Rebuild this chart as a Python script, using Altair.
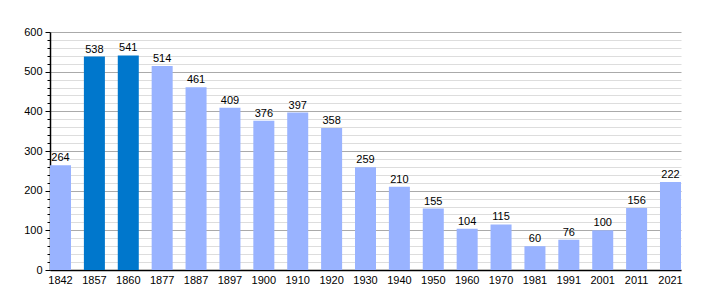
import altair as alt
import pandas as pd

years = ["1842", "1857", "1860", "1877", "1887", "1897", "1900", "1910", "1920", "1930",
         "1940", "1950", "1960", "1970", "1981", "1991", "2001", "2011", "2021"]
population = [264, 538, 541, 514, 461, 409, 376, 397, 358, 259,
              210, 155, 104, 115, 60, 76, 100, 156, 222]
highlight = ["no", "yes", "yes", "no", "no", "no", "no", "no", "no", "no",
             "no", "no", "no", "no", "no", "no", "no", "no", "no"]
y_ticks = list(range(0, 601, 20))

df = pd.DataFrame({"year": years, "pop": population, "hl": highlight})

font = "Liberation Sans"

base = alt.Chart(df)

x = alt.X("year:N", sort=years, title=None,
          scale=alt.Scale(paddingInner=0.38, paddingOuter=0),
          axis=alt.Axis(labelAngle=0, labelFont=font, labelFontSize=11, labelColor="#000",
                        domainColor="#000", domainWidth=1.5, ticks=False, labelPadding=4))
y = alt.Y("pop:Q", title=None,
          scale=alt.Scale(domain=[0, 600], nice=False),
          axis=alt.Axis(values=y_ticks, tickCount=100, labelOverlap=False, labelBound=False,
                        labelExpr="datum.value % 100 === 0 ? datum.label : ''",
                        labelFont=font, labelFontSize=11, labelColor="#000",
                        domainColor="#000", domainWidth=1.5,
                        tickColor="#000",
                        tickSize={"condition": {"test": "datum.value % 100 === 0", "value": 5}, "value": 3},
                        grid=True,
                        gridColor={"condition": {"test": "datum.value % 100 === 0", "value": "#aaaaaa"}, "value": "#dddddd"},
                        gridWidth=1, labelPadding=3))

bars = base.mark_bar().encode(
    x=x, y=y,
    color=alt.Color("hl:N", scale=alt.Scale(domain=["no", "yes"], range=["#99b3ff", "#0077cc"]), legend=None),
)

labels = base.mark_text(dy=-7, font=font, fontSize=11, color="#000").encode(
    x=x, y=y, text="pop:Q"
)

chart = alt.layer(bars, labels).properties(
    width=631, height=238,
    padding={"left": 50, "top": 32, "right": 29, "bottom": 30},
    autosize=alt.AutoSizeParams(type="none"),
    background="white",
).configure_view(stroke=None)

chart.save("out.html", embed_options={"renderer": "svg", "actions": False})
